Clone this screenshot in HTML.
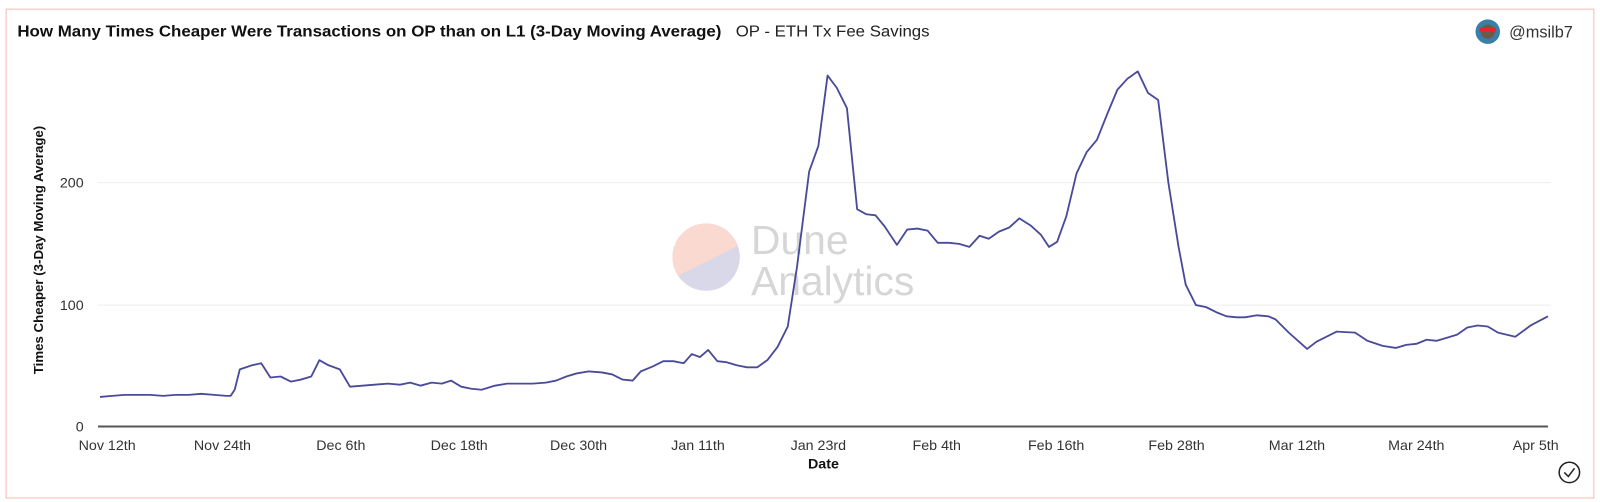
<!DOCTYPE html>
<html><head><meta charset="utf-8"><style>
html,body{margin:0;padding:0;background:#fff;}
svg{display:block;font-family:"Liberation Sans",sans-serif;}
</style></head><body>
<svg width="1600" height="502" viewBox="0 0 1568 492" preserveAspectRatio="none" xmlns="http://www.w3.org/2000/svg">
<rect x="6" y="9" width="1556" height="479" fill="#fff" stroke="#f7c6c1" stroke-width="1.2"/>
<text x="17" y="36" font-size="15" font-weight="bold" fill="#111" textLength="690" lengthAdjust="spacingAndGlyphs">How Many Times Cheaper Were Transactions on OP than on L1 (3-Day Moving Average)</text>
<text x="721" y="36" font-size="15" fill="#222" textLength="190" lengthAdjust="spacingAndGlyphs">OP - ETH Tx Fee Savings</text>
<circle cx="1458" cy="31" r="12" fill="#3a7fa8"/>
<circle cx="1458" cy="31" r="7" fill="#6b5a4a"/>
<rect x="1450" y="27" width="16" height="4" fill="#e8262a"/>
<text x="1479" y="37" font-size="16" fill="#333">@msilb7</text>
<defs><clipPath id="c"><circle cx="692" cy="252" r="33"/></clipPath></defs>
<g clip-path="url(#c)">
<rect x="655" y="215" width="80" height="80" fill="#d9d8e8"/>
<polygon points="655,215 735,215 735,235 655,275" fill="#fad9d1"/>
</g>
<text x="736" y="249" font-size="40" fill="#d6d6d6">Dune</text>
<text x="736" y="289" font-size="40" fill="#d6d6d6">Analytics</text>
<line x1="96" y1="179" x2="1520" y2="179" stroke="#eee" stroke-width="1"/>
<line x1="96" y1="299" x2="1520" y2="299" stroke="#eee" stroke-width="1"/>
<line x1="96" y1="418" x2="1517" y2="418" stroke="#555" stroke-width="2"/>
<g font-size="14" fill="#333" text-anchor="end">
<text x="82" y="184">200</text><text x="82" y="304">100</text><text x="82" y="423">0</text>
</g>
<text transform="translate(42,245) rotate(-90)" font-size="13" font-weight="bold" fill="#111" text-anchor="middle">Times Cheaper (3-Day Moving Average)</text>
<g font-size="14" fill="#333" text-anchor="middle">
<text x="105" y="441">Nov 12th</text><text x="218" y="441">Nov 24th</text><text x="334" y="441">Dec 6th</text>
<text x="450" y="441">Dec 18th</text><text x="567" y="441">Dec 30th</text><text x="684" y="441">Jan 11th</text>
<text x="802" y="441">Jan 23rd</text><text x="918" y="441">Feb 4th</text><text x="1035" y="441">Feb 16th</text>
<text x="1153" y="441">Feb 28th</text><text x="1271" y="441">Mar 12th</text><text x="1388" y="441">Mar 24th</text>
<text x="1505" y="441">Apr 5th</text>
</g>
<text x="807" y="459" font-size="14" font-weight="bold" fill="#111" text-anchor="middle">Date</text>
<circle cx="1538" cy="463" r="10" fill="none" stroke="#222" stroke-width="1.5"/>
<polyline points="1533,463 1537,467 1543,459" fill="none" stroke="#222" stroke-width="1.5"/>
<polyline fill="none" stroke="#4a4a9a" stroke-width="1.8" stroke-linejoin="round" points="98,389 110,388 122,387 135,387 147,387 160,388 172,387 185,387 197,386 210,387 222,388 226,388 230,382 235,362 247,358 256,356 265,370 275,369 285,374 295,372 305,369 313,353 322,358 333,362 343,379 355,378 367,377 380,376 392,377 402,375 412,378 423,375 433,376 442,373 452,379 462,381 472,382 485,378 497,376 510,376 522,376 535,375 545,373 555,369 565,366 577,364 590,365 600,367 610,372 620,373 628,364 640,359 650,354 660,354 670,356 678,347 686,350 694,343 703,354 712,355 722,358 732,360 742,360 752,353 762,340 772,320 781,262 793,168 802,143 811,74 820,86 830,106 840,205 849,210 858,211 867,222 879,240 889,225 899,224 909,226 919,238 930,238 940,239 950,242 960,231 969,234 979,227 989,223 999,214 1010,221 1020,230 1028,242 1036,237 1045,212 1055,170 1065,149 1075,137 1085,112 1095,88 1105,77 1115,70 1125,91 1135,98 1145,179 1155,242 1162,279 1172,299 1182,301 1192,306 1202,310 1212,311 1220,311 1232,309 1243,310 1250,313 1263,326 1281,342 1290,335 1310,325 1328,326 1340,334 1355,339 1368,341 1378,338 1388,337 1398,333 1408,334 1418,331 1428,328 1438,321 1448,319 1458,320 1468,326 1485,330 1500,319 1517,310"/>
</svg>
</body></html>
